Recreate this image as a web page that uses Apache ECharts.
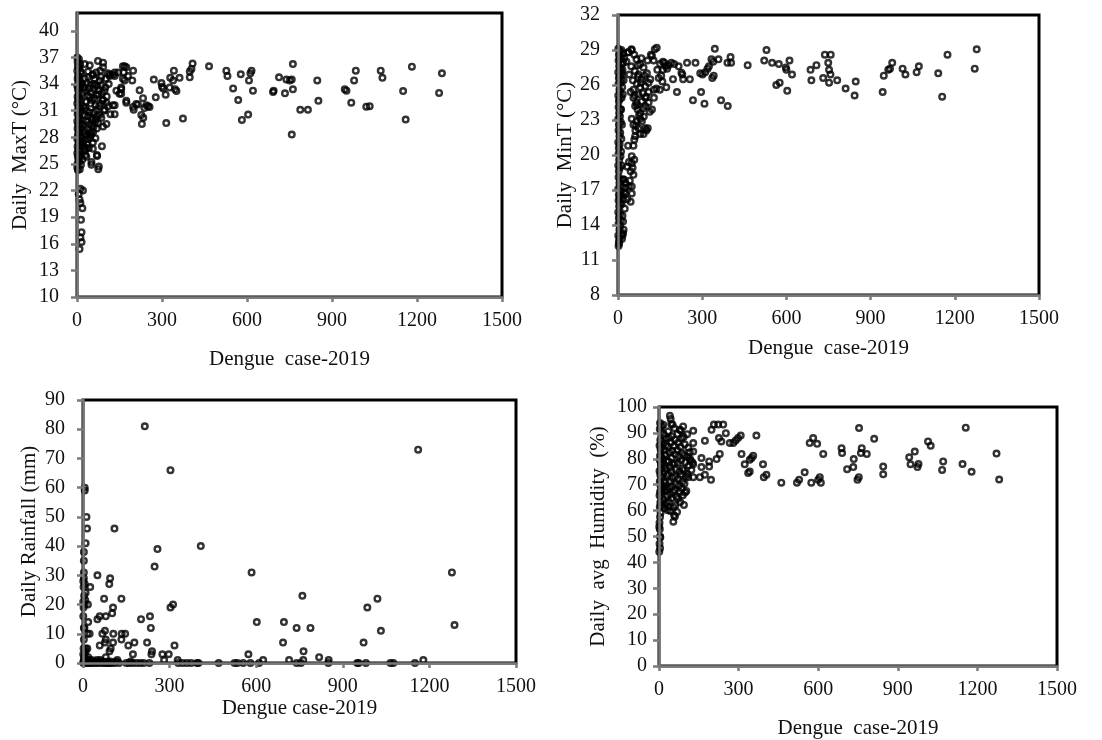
<!DOCTYPE html>
<html>
<head>
<meta charset="utf-8">
<script src="https://cdn.jsdelivr.net/npm/echarts@6/dist/echarts.min.js"></script>
<style>html,body{margin:0;padding:0;background:#fff}#c{width:1102px;height:740px}</style>
</head>
<body>
<div id="c"></div>
<script>
// ---- tick labels ----
const xTicks = [0, 300, 600, 900, 1200, 1500];
const yTicksMaxT = [10, 13, 16, 19, 22, 25, 28, 31, 34, 37, 40];
const yTicksMinT = [8, 11, 14, 17, 20, 23, 26, 29, 32];
const yTicksRain = [0, 10, 20, 30, 40, 50, 60, 70, 80, 90];
const yTicksHum = [0, 10, 20, 30, 40, 50, 60, 70, 80, 90, 100];

// ---- series values: [dengue cases, variable] ----
const maxT = [
[1,37],[2,36.5],[3,36],[1,35.5],[4,35],[2,34.6],[5,34.2],[1,33.8],[3,33.4],[6,33],[2,32.6],[4,32.2],[1,31.8],[5,31.4],[3,31],[2,30.6],[6,30.2],[1,29.8],[4,29.4],[2,29],[5,28.6],[3,28.2],[1,27.8],[6,27.4],[2,27],[4,26.6],[1,26.2],[3,25.8],[5,25.4],[2,25],[1,24.6],[3,24.3],[7,36.8],[8,35.8],[7,34.8],[9,33.6],[8,32.4],[7,31.2],[9,30],[8,28.8],[7,27.6],[9,26.4],[8,25.2],
[11,36.2],[13,35.4],[10,34.4],[12,31.4],[10,29.4],[13,27.3],[11,25.8],[14,24.9],[10,24.4],
[12,22.2],[21,22],[6,21.6],[9,21],[12,20.6],[19,20],[14,18.7],[16,17.3],[12,16.7],[16,16.2],[9,15.4],
[15,35.2],[18,34],[20,33],[22,31.5],[25,30.5],[18,29.5],[15,28],[22,27.3],[28,34.6],[30,33.2],[32,32],[35,31],[33,29.8],[38,29],[40,34.8],[42,33.5],[45,32.5],[48,31.8],[44,30.8],[50,30.2],[52,29.3],[48,28.5],[55,35],[58,34],[60,33.4],[62,32.4],[65,31.6],[60,30.8],[66,30],[70,29],[68,35.3],[72,33.8],[75,32.8],[78,31.5],[80,30.5],[82,35.5],[85,34.8],[88,33],[90,32.2],[95,31],[100,33.6],[105,32.6],[110,31.5],[108,35.2],[112,34],[118,30.6],[12,33.8],[14,32.2],[11,30.7],[13,29],[16,27.6],[12,26],[19,25.5],[24,28.4],[26,26.9],[36,27.2],[42,26.8],[57,28.6],[63,29.6],
[27,36.25],[45,36.1],[56,35.1],[74,36.6],[92,36.4],[92,35.9],[62,34.6],[80,34.4],[86,33.9],[51,33.1],[68,32.8],[92,32.2],[104,31.9],[98,31.1],[68,31.1],[39,30.4],[56,30],[74,29.6],[92,29.2],[104,29.5],[27,28.7],[51,28.3],[39,27.8],[56,27.4],[32,26.7],[56,26.7],[30,26],[70,26],[88,27],[51,25.2],[77,24.7],[71,25.9],[75,24.4],[51,24.9],[33,25.8],[27,26.5],
[24,33.6],[34,34.1],[37,32.7],[29,31.3],[43,29.4],[46,27.9],[21,29.9],[31,28.2],[53,32.2],[64,33.9],[76,33.3],[83,31.8],[71,30.4],[59,29.2],[47,33.9],[39,35.4],[97,33.2],[102,34.6],[86,30.2],[65,27.9],[44,28.1],
[115,35.1],[115,34.9],[127,35.05],[133,35.3],[133,34.9],[139,33.25],[145,35.3],[133,31.6],[133,30.6],[127,31.6],[150,32.9],[156,33.6],[156,33.4],[156,32.9],[162,34.6],[162,36],[165,35.3],[168,36],[174,35.9],[174,32.1],[168,34.4],[174,31.9],[180,34.9],[195,34.4],[198,35.5],[198,31.4],[200,31.1],[209,31.75],[215,31.7],[221,33.3],[227,30.5],[229,29.5],[233,32.4],[234,30.2],[238,31.3],[245,31.6],[251,31.5],[256,31.4],[271,34.5],[278,32.5],[298,34.1],[300,33.7],[304,33.5],[313,32.8],[315,29.6],[327,33.6],[329,34.7],[339,34.4],[342,35.5],[346,33.4],[351,33.2],[362,34.7],[374,30.1],[398,35.4],[398,34.75],[404,35.7],[408,36.3],[466,36],
[527,35.5],[531,34.9],[551,33.5],[569,32.2],[578,35.1],[582,29.95],[604,30.55],[607,34.4],[612,35.2],[616,35.5],[621,33.25],[692,33.1],[694,33.25],[713,34.75],[734,32.95],[739,34.5],[751,34.4],[758,34.5],[762,36.25],[762,33.4],[758,28.3],[788,31.1],[815,31.1],[848,34.4],[852,32.1],[945,33.4],[951,33.25],[968,31.9],[978,34.4],[984,35.5],[1021,31.45],[1033,31.5],[1072,35.5],[1078,34.7],[1151,33.2],[1160,30],[1182,35.95],[1278,33],[1288,35.2]
];

const minT = [
[1,29.1],[3,28.6],[2,28.1],[4,27.6],[1,27.1],[3,26.6],[2,26.1],[5,25.6],[1,25.1],[3,24.6],[2,24.1],[4,23.6],[1,23.1],[3,22.6],[2,22.1],[5,21.6],[1,21.1],[3,20.6],[2,20.1],[4,19.6],[1,19.1],[3,18.6],[2,18.1],[5,17.6],[1,17.1],[3,16.6],[2,16.1],[4,15.6],[1,15.1],[3,14.6],[2,14.1],[5,13.6],[1,13.1],[3,12.6],[2,12.2],[4,12.4],
[7,28.9],[8,28.2],[9,27.4],[7,26.8],[10,26.2],[8,25.4],[6,24.8],[9,23.9],[7,23.3],[10,22.8],[8,21.9],[6,20.9],[9,19.9],[7,18.9],[10,17.9],[8,16.9],[6,16.4],[9,15.9],[7,14.9],[10,14.4],[8,13.9],[6,12.9],[11,13.2],
[12,28.4],[14,27.8],[13,27.1],[12,26.4],[15,25.8],[12,29.0],[18,28.7],[16,27.3],[13,24.9],[11,23.9],[14,22.6],[12,21.4],[11,20.3],[13,19.1],[15,26.9],[19,27.9],[22,28.3],[17,25.2],[20,26.4],
[18,13.3],[20,13.6],[18,14.3],[24,15.4],[12,17.3],[18,17.9],[15,16.5],[22,16.8],[25,17.2],[14,12.8],[16,14.8],[13,15.8],[19,16.2],[16,13.1],[21,17.9],
[49,16.7],[45,16],[33,16.2],[27,16.7],[39,17.3],[49,17.3],[27,17.6],[55,18.3],[45,18.6],[33,19],[49,19.3],[39,19.4],[49,19.9],[36,20.8],[55,20.8],[61,21.6],[79,21.8],[91,21.8],[97,22.3],[106,22.3],[73,22.3],[55,22.6],[67,22.9],[79,23.1],[49,23.1],[79,23.6],[61,24.2],[97,24.2],[121,23.9],[109,24.5],[85,24.6],[55,24.9],[97,24.9],[73,25.2],[55,25.6],[109,25.4],[79,25.8],[97,25.9],[67,26.1],[109,26.2],[85,26.5],[73,26.9],[103,27],[91,27.5],[79,27.8],[127,28.1],[138,29.2],[121,28.5],[49,29.0],[37,28.8],[30,28],
[60,25.1],[65,24.5],[70,23.9],[85,22.9],[62,22.1],[58,21.3],[90,24.0],[100,25.0],[45,25.4],[40,26.9],[60,27.2],[95,26.8],[115,26.5],[128,25.6],
[52,18.9],[42,17.8],[58,19.6],[64,22.5],[75,23.4],[88,25.3],[68,24.3],[82,26.2],[92,23.3],[53,26.4],[47,27.6],[66,28.2],[58,28.6],
[1278,29.06],[1271,27.4],[1174,28.6],[1141,27],[1155,25],[1072,27.6],[1064,27.1],[1024,26.9],[1014,27.4],[977,27.9],[969,27.4],[963,27.3],[947,26.8],[943,25.4],[847,26.3],[843,25.1],[811,25.7],[781,26.4],[758,28.6],[737,28.6],[749,27.9],[752,27.3],[757,26.9],[752,26.2],[731,26.6],[707,27.7],[686,27.3],[689,26.4],[620,26.9],[611,28.1],[603,25.5],[600,27.3],[598,27.5],[576,26.2],[564,26],[573,27.8],[549,27.9],[521,28.1],[529,29],[462,27.7],[403,27.9],[401,28.4],[390,27.9],[391,24.2],[367,24.7],[358,28.2],[345,29.1],[339,28],[336,26.6],[341,26.8],[333,28.2],[324,27.6],[319,27.4],[311,27.1],[308,24.4],[301,26.9],[293,27],[296,25.4],[276,27.9],[267,24.7],[256,26.5],[246,27.9],[232,26.5],[229,26.9],[226,27.05],[210,25.4],[216,27.6],[196,26.5],[190,27.9],[170,27.6],[172,25.8],[160,27.3],[158,26.3],[154,26.8],[149,25.6],[137,25.7],[131,29.06],[117,28.6],[128,24.9],[113,23.7],[105,28.1],[83,28.3],[71,27.7],[71,26.7],[101,22.1],[36,28.8],[48,29.06],
[165,27.9],[175,27.4],[180,27.7],[200,27.8],[140,27.3],[145,26.6],[150,27.8],[160,28.0]
];

const rain = [
[214,81],[303,66],[1161,73],[6,60],[6,59],[12,50],[14,46],[109,46],[9,41],[408,40],[258,39],[3,38],[248,33],[3,35],[584,31],[1278,31],[50,30],[94,29],[91,27],[3,31],[3,29],[6,27],[25,26],[9,24],[760,23],[73,22],[133,22],[1020,22],[6,20],[17,20],[8,21.5],[312,20],[303,19],[985,19],[104,19],[101,17],[201,15],[232,16],[50,15],[58,16],[79,16],[18,14],[602,14],[696,14],[235,12],[740,12],[788,12],[1287,13],[1032,11],[76,11],[105,10],[134,10],[146,10],[15,10],[23,10],[3,12],[67,10],[133,8],[79,8],[76,7],[104,7],[222,7],[178,7],[693,7],[972,7],[58,6],[157,6],[317,6],[15,5],[9,4],[92,4],[239,4],[764,4],[96,5],[173,3],[275,3],[297,3],[237,3],[573,3],[79,2],[818,2],[1179,1],[624,1],[714,1],[851,1],[763,1],[328,1],[119,1],[281,1],
[1,0],[2,0.5],[3,1],[4,2],[1,3],[2,5],[3,8],[1,16],[2,19],[4,23],[1,21],[2,26],[1,28],[5,12],[6,3],[7,1],[8,0],[10,5],[12,0.5],[14,1],[16,0],[18,2],[20,1],[22,0],[25,0.5],[28,0],[30,1],[35,0],[40,0.5],[45,0],[48,1],[52,0],[56,0.5],[60,1],[63,0],[68,0.5],[72,0],[80,0],[85,0.5],[88,0],[92,0],[96,0.5],[100,0],[110,0],[115,0.5],[125,0],[150,0],[160,0],[165,0.5],[172,0],[185,0],[198,0],[210,0],[230,0],[330,0],[345,0],[360,0],[375,0],[395,0],[400,0],[470,0],[525,0],[535,0],[555,0],[580,0],[610,0],[740,0],[755,0],[850,0],[950,0],[955,0],[980,0],[1065,0],[1075,0],[1150,0]
];

const humidity = [
[1156,92],[1272,82],[1282,72],[1178,75],[1144,78],[1071,79],[1067,75.7],[1024,85],[1014,86.7],[978,78],[974,76.8],[964,82.8],[948,77.9],[943,80.6],[845,77],[845,74],[811,87.7],[783,81.9],[764,84.1],[761,82.2],[754,91.9],[753,72.9],[748,71.9],[734,79.9],[732,76.8],[709,76],[690,82.2],[688,84.1],[619,81.9],[610,70.8],[606,72.9],[600,71.9],[596,85.8],[581,88],[568,86.1],[574,70.8],[549,74.8],[528,71.9],[520,70.8],[461,70.8],[405,73.8],[395,72.9],[392,77.9],[367,89],[355,81.2],[342,79.6],[349,80.3],[342,75.1],[336,74.5],[323,77.9],[311,81.9],[308,89],[298,88],[289,87.1],[280,86.1],[267,86.1],[252,89.9],[242,93.2],[223,93.2],[207,93.2],[235,86.7],[226,88],[229,81.9],[217,79.9],[198,91.2],[196,71.9],[189,77],[189,79],[173,87],[173,73.8],[160,80.3],[160,76.8],[154,72.9],[129,72.9],[129,90.8],[129,86.1],[129,82.8],[129,77.9],[117,79.9],[110,72.9],[94,62.2],[98,67],[91,92.5],[79,91.2],[41,96.6],[44,95.4],[51,93.2],[54,55.7],[60,57.7],[35,61.5],[4,93.8],[10,92.5],[1,44.1],[4,50],[1,53.8],
[3,91.5],[5,87.3],[2,85.1],[6,83.6],[4,81.2],[3,79.4],[7,77.8],[2,75.3],[5,73.7],[3,71.2],[6,69.6],[4,67.3],[2,65.8],[5,63.1],[3,61.4],[6,59.2],[4,57.5],[2,55.3],[3,52.8],[5,49.6],[2,47.2],[4,45.5],
[9,90.3],[11,86.7],[8,84.2],[10,80.6],[12,78.1],[9,76.4],[11,72.8],[8,70.1],[13,68.4],[10,66.9],[12,63.5],[9,61.8],
[16,93.1],[18,89.4],[15,85.9],[19,83.3],[17,79.8],[21,77.2],[16,74.6],[20,71.5],[18,69.2],[22,67.7],[17,64.3],[21,60.9],
[25,87.9],[27,85.3],[24,81.6],[29,79.2],[26,76.1],[30,73.4],[25,70.8],[28,68.1],[31,65.6],[27,62.7],[33,60.1],
[35,90.6],[37,88.1],[34,84.7],[39,82.3],[36,79.1],[41,76.7],[35,74.2],[40,71.3],[38,68.8],[42,66.2],[37,63.4],[43,59.8],
[46,93.4],[48,88.8],[45,86.3],[50,83.1],[47,80.4],[52,77.9],[46,75.2],[51,72.6],[49,69.4],[53,67.1],[48,64.8],[55,61.3],[57,58.2],
[58,91.8],[60,87.4],[57,84.9],[62,81.7],[59,78.3],[64,75.8],[61,73.1],[63,70.2],[60,67.9],[66,65.4],[62,62.1],[68,59.5],
[70,89.6],[72,86.2],[69,83.4],[74,80.9],[71,78.4],[76,75.1],[73,72.3],[75,69.7],[78,67.2],[72,64.6],[80,63.3],
[82,90.9],[85,87.8],[81,84.6],[87,82.1],[84,79.5],[89,76.3],[83,73.8],[88,71.1],[86,68.5],[90,65.9],
[93,88.4],[97,85.6],[95,81.4],[99,78.7],[94,75.6],[101,73.2],[96,70.4],[103,67.6],
[106,89.5],[110,84.3],[108,80.8],[113,77.4],[107,74.1],[116,82.5],[119,79.2],[122,75.7],[126,78.6]
];

const yNames = ['Daily  MaxT (°C)', 'Daily  MinT (°C)', 'Daily Rainfall (mm)', 'Daily  avg  Humidity  (%)'];
const xNames = ['Dengue  case-2019', 'Dengue  case-2019', 'Dengue case-2019', 'Dengue  case-2019'];

// ---- layout / style ----
const FONT = 'Liberation Serif';
const grids = [
  {left: 77, top: 13, width: 425, height: 284},
  {left: 618, top: 15, width: 421, height: 280},
  {left: 83, top: 400, width: 433, height: 263},
  {left: 659, top: 407, width: 398, height: 259}
];
const yRanges = [[10, 42, yTicksMaxT], [8, 32, yTicksMinT], [0, 90, yTicksRain], [0, 100, yTicksHum]];
const xNameGaps = [52, 43, 34, 52];
const yNameGaps = [46, 40, 43, 50];
const yLabelMargins = [18, 18, 18, 12];
const datasets = [maxT, minT, rain, humidity];

const axisLineStyle = {color: '#7a7a7a', width: 2.5};
const option = {
  backgroundColor: '#fff',
  animation: false,
  grid: grids.map(g => Object.assign({show: true, borderColor: '#000', borderWidth: 3, containLabel: false}, g)),
  xAxis: grids.map((g, i) => ({
    type: 'value', gridIndex: i, min: 0, max: 1500, z: 3,
    name: xNames[i], nameLocation: 'middle', nameGap: xNameGaps[i],
    nameTextStyle: {fontFamily: FONT, fontSize: 21, color: '#111'},
    axisLine: {show: true, onZero: false, lineStyle: axisLineStyle},
    axisTick: {show: true, length: 5, lineStyle: axisLineStyle, customValues: xTicks},
    axisLabel: {fontFamily: FONT, fontSize: 20, color: '#111', margin: 14, customValues: xTicks,
      formatter: v => String(v)},
    splitLine: {show: false}
  })),
  yAxis: grids.map((g, i) => ({
    type: 'value', gridIndex: i, min: yRanges[i][0], max: yRanges[i][1], z: 3,
    name: yNames[i], nameLocation: 'middle', nameGap: yNameGaps[i],
    nameTextStyle: {fontFamily: FONT, fontSize: 21, color: '#111'},
    axisLine: {show: true, onZero: false, lineStyle: axisLineStyle},
    axisTick: {show: true, length: 6, lineStyle: axisLineStyle, customValues: yRanges[i][2]},
    axisLabel: {fontFamily: FONT, fontSize: 20, color: '#111', margin: yLabelMargins[i], customValues: yRanges[i][2],
      formatter: v => String(v)},
    splitLine: {show: false}
  })),
  series: datasets.map((d, i) => ({
    type: 'scatter', xAxisIndex: i, yAxisIndex: i, data: d,
    symbol: 'circle', symbolSize: 5.6, z: 2,
    itemStyle: {color: 'rgba(255,255,255,0)', borderColor: '#000', borderWidth: 2.4}
  }))
};
const chart = echarts.init(document.getElementById('c'), null, {renderer: 'canvas'});
chart.setOption(option);
</script>
</body>
</html>
